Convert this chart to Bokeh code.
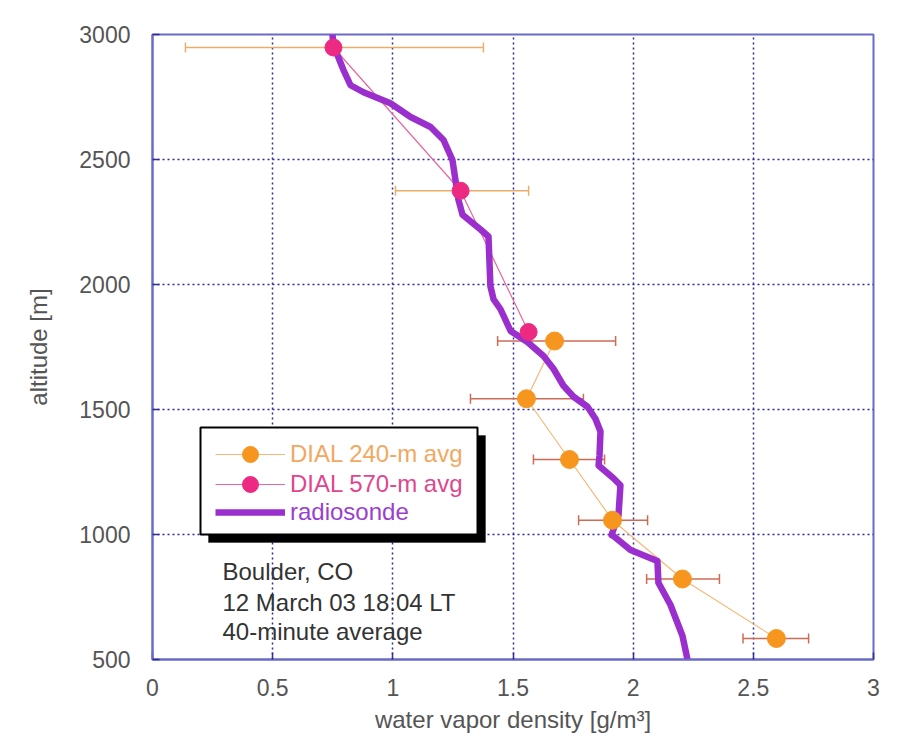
from bokeh.plotting import figure
from bokeh.models import (ColumnDataSource, Whisker, TeeHead, Legend, LegendItem,
                          BoxAnnotation, Label, Range1d, FixedTicker)
from bokeh.embed import file_html
from bokeh.resources import INLINE

# ---------------- data ----------------
dial240_x = [2.596, 2.205, 1.914, 1.735, 1.556, 1.673]
dial240_alt = [584, 822, 1057, 1300, 1543, 1774]
dial240_lo = [2.457, 2.056, 1.773, 1.585, 1.323, 1.436]
dial240_hi = [2.730, 2.359, 2.060, 1.881, 1.793, 1.927]

dial570_x = [1.565, 1.282, 0.753]
dial570_alt = [1810, 2375, 2948]
dial570_lo = [None, 1.011, 0.137]
dial570_hi = [None, 1.565, 1.377]

sonde_x = [2.226, 2.205, 2.155, 2.105, 2.101, 1.989, 1.918, 1.910, 1.939, 1.947,
           1.918, 1.856, 1.860, 1.864, 1.843, 1.810, 1.752, 1.710, 1.669, 1.627,
           1.560, 1.490, 1.448, 1.419, 1.406, 1.398, 1.365, 1.290, 1.273, 1.248,
           1.211, 1.157, 1.074, 0.990, 0.878, 0.824, 0.795, 0.770, 0.753, 0.749]
sonde_alt = [500, 595, 719, 807, 894, 938, 994, 998, 1077, 1197,
             1225, 1276, 1316, 1412, 1463, 1511, 1551, 1595, 1662, 1714,
             1770, 1814, 1901, 1941, 1993, 2192, 2220, 2279, 2339, 2498,
             2578, 2630, 2670, 2725, 2769, 2797, 2857, 2917, 2948, 3000]

x_ticks = [0, 0.5, 1, 1.5, 2, 2.5, 3]
y_ticks = [500, 1000, 1500, 2000, 2500, 3000]
x_label = "water vapor density [g/m\u00b3]"
y_label = "altitude [m]"
legend_labels = ["DIAL 240-m avg", "DIAL 570-m avg", "radiosonde"]
note_lines = ["Boulder, CO", "12 March 03 18:04 LT", "40-minute average"]

# ---------------- styles ----------------
FONT = "Liberation Sans"
ORANGE = "#f7961f"
PINK = "#ec2a82"
PURPLE = "#9a2fce"
FRAME = "#6a6ac8"
GRID = "#2d2d9a"
TXT = "#555555"

p = figure(width=891, height=735, output_backend="svg", toolbar_location=None,
           x_range=Range1d(0, 3), y_range=Range1d(500, 3000),
           min_border_left=152, min_border_right=18, min_border_top=34,
           min_border_bottom=73)
p.background_fill_color = "white"
p.border_fill_color = "white"
p.outline_line_color = FRAME
p.outline_line_width = 2

for ax, ticks in ((p.xaxis[0], x_ticks), (p.yaxis[0], y_ticks)):
    ax.ticker = FixedTicker(ticks=ticks)
    ax.axis_line_color = FRAME
    ax.axis_line_width = 2
    ax.major_tick_in = 7
    ax.major_tick_out = 0
    ax.major_tick_line_color = GRID
    ax.major_tick_line_width = 1.5
    ax.minor_tick_line_color = None
    ax.major_label_text_font = FONT
    ax.major_label_text_font_size = "23px"
    ax.major_label_text_color = TXT
    ax.axis_label_text_font = FONT
    ax.axis_label_text_font_size = "24px"
    ax.axis_label_text_font_style = "normal"
    ax.axis_label_text_color = TXT

p.xaxis.axis_label = x_label
p.yaxis.axis_label = y_label
p.xaxis.major_label_standoff = 19
p.xaxis.axis_label_standoff = 7
p.yaxis.major_label_standoff = 22
p.yaxis.axis_label_standoff = 24
p.xaxis.major_label_overrides = {0: "0", 1: "1", 2: "2", 3: "3"}

p.xgrid.ticker = FixedTicker(ticks=x_ticks)
p.ygrid.ticker = FixedTicker(ticks=y_ticks)
p.grid.grid_line_color = GRID
p.grid.grid_line_dash = "2 3"
p.grid.grid_line_width = 1.5

# error bars
src240 = ColumnDataSource(dict(alt=dial240_alt, lo=dial240_lo, hi=dial240_hi))
p.add_layout(Whisker(source=src240, base="alt", lower="lo", upper="hi", dimension="width",
                     line_color="#cf6a55", line_width=1.5,
                     lower_head=TeeHead(size=10, line_color="#cf6a55", line_width=1.5),
                     upper_head=TeeHead(size=10, line_color="#cf6a55", line_width=1.5)))
idx = [i for i, v in enumerate(dial570_lo) if v is not None]
src570e = ColumnDataSource(dict(alt=[dial570_alt[i] for i in idx],
                                lo=[dial570_lo[i] for i in idx],
                                hi=[dial570_hi[i] for i in idx]))
p.add_layout(Whisker(source=src570e, base="alt", lower="lo", upper="hi", dimension="width",
                     line_color="#e9ae6a", line_width=1.5,
                     lower_head=TeeHead(size=10, line_color="#e9ae6a", line_width=1.5),
                     upper_head=TeeHead(size=10, line_color="#e9ae6a", line_width=1.5)))

l240 = p.line(dial240_x, dial240_alt, line_color="#f5b878", line_width=1.2)
l570 = p.line(dial570_x, dial570_alt, line_color="#e8679c", line_width=1.2)
lsonde = p.line(sonde_x, sonde_alt, line_color=PURPLE, line_width=6.5, line_join="round")
c240 = p.scatter(dial240_x, dial240_alt, size=18, fill_color=ORANGE, line_color=ORANGE)
c570 = p.scatter(dial570_x, dial570_alt, size=17, fill_color=PINK, line_color=PINK)

# legend box with shadow
p.add_layout(BoxAnnotation(left=56, right=333, top=224, bottom=117,
                           left_units="screen", right_units="screen",
                           top_units="screen", bottom_units="screen",
                           fill_color="black", fill_alpha=1, line_color="black"))
p.add_layout(BoxAnnotation(left=48, right=325, top=232, bottom=125,
                           left_units="screen", right_units="screen",
                           top_units="screen", bottom_units="screen",
                           fill_color="white", fill_alpha=1, line_color="black",
                           line_width=2, line_alpha=1))

leg_specs = [
    (legend_labels[0], [l240, c240], "#f2a860", 185),
    (legend_labels[1], [l570, c570], "#e0468e", 155),
    (legend_labels[2], [lsonde], "#9a3fd0", 127),
]
for lab, rends, col, ypos in leg_specs:
    lg = Legend(items=[LegendItem(label=lab, renderers=rends)], location=(63, ypos),
                background_fill_alpha=0, border_line_color=None, padding=0, margin=0,
                glyph_width=70, glyph_height=40, label_height=40, label_standoff=5,
                label_text_font=FONT, label_text_font_size="24px", label_text_color=col)
    p.add_layout(lg)

for txt, ypos in zip(note_lines, [88, 57, 28]):
    p.add_layout(Label(x=70, y=ypos, x_units="screen", y_units="screen", text=txt,
                       text_font=FONT, text_font_size="24px", text_color="#333333",
                       text_baseline="middle"))

open("out.html", "w").write(file_html(p, INLINE))
